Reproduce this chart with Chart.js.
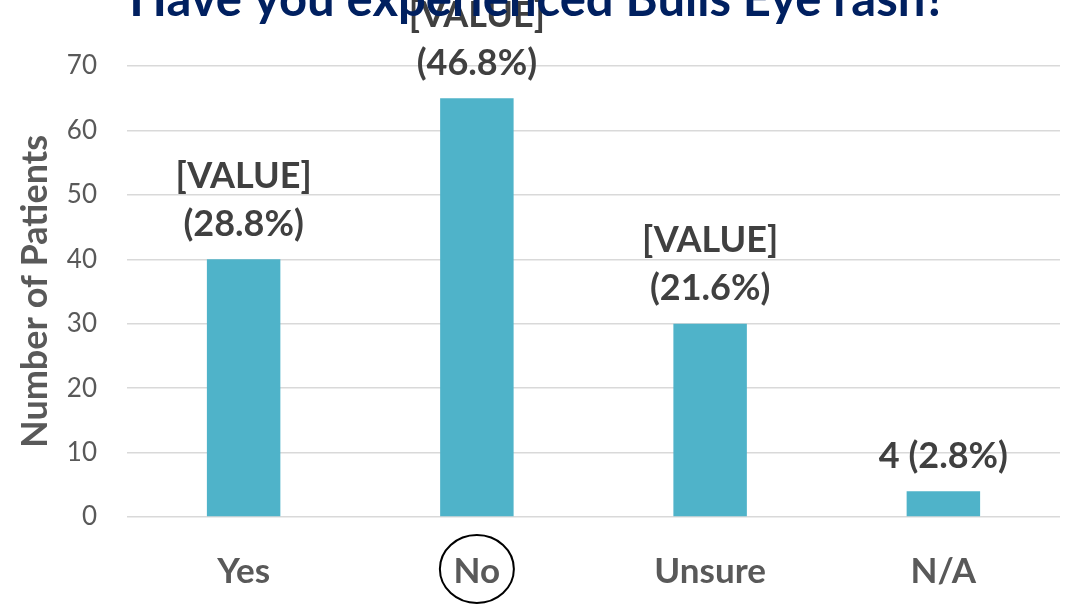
<!DOCTYPE html>
<html>
<head>
<meta charset="utf-8">
<script src="https://cdn.jsdelivr.net/npm/chart.js@4/dist/chart.umd.min.js"></script>
<style>
  html, body { margin: 0; padding: 0; background: #fff; }
  #wrap { width: 1079px; height: 605px; position: relative; }
</style>
</head>
<body>
<div id="wrap"><canvas id="chart"></canvas></div>
<script>
const categories = ['Yes', 'No', 'Unsure', 'N/A'];
const patients = [40, 65, 30, 4];
const valueLabels = [
  ['[VALUE]', '(28.8%)'],
  ['[VALUE]', '(46.8%)'],
  ['[VALUE]', '(21.6%)'],
  ['4 (2.8%)']
];
const chartTitle = 'Have you experienced Bulls Eye rash?';
const yAxisTitle = 'Number of Patients';
const circledCategory = 'No';

const FONT = 'Lato, "Open Sans", sans-serif';

// title sits partly above the canvas edge
const titlePlugin = {
  id: 'topTitle',
  afterDraw(chart) {
    const ctx = chart.ctx;
    ctx.save();
    ctx.font = 'bold 49px ' + FONT;
    ctx.fillStyle = '#002060';
    ctx.textAlign = 'center';
    ctx.textBaseline = 'alphabetic';
    ctx.fillText(chartTitle, 538, 16);
    ctx.restore();
  }
};

// value + percentage labels above each bar
const barLabels = {
  id: 'barLabels',
  afterDatasetsDraw(chart) {
    const ctx = chart.ctx;
    const meta = chart.getDatasetMeta(0);
    ctx.save();
    ctx.font = 'bold 36px ' + FONT;
    ctx.fillStyle = '#404040';
    ctx.textAlign = 'center';
    ctx.textBaseline = 'middle';
    meta.data.forEach((bar, i) => {
      const lines = valueLabels[i];
      lines.forEach((txt, j) => {
        const fromBottom = lines.length - 1 - j;
        ctx.fillText(txt, bar.x, bar.y - 35 - fromBottom * 48);
      });
    });
    ctx.restore();
  }
};

// ring drawn around one category label
const circleLabel = {
  id: 'circleLabel',
  afterDraw(chart) {
    const idx = categories.indexOf(circledCategory);
    if (idx < 0) return;
    const x = chart.scales.x.getPixelForValue(idx);
    const ctx = chart.ctx;
    ctx.save();
    ctx.strokeStyle = '#000';
    ctx.lineWidth = 2;
    ctx.beginPath();
    ctx.ellipse(x, 569, 37, 34, 0, 0, Math.PI * 2);
    ctx.stroke();
    ctx.restore();
  }
};

new Chart(document.getElementById('chart'), {
  type: 'bar',
  data: {
    labels: categories,
    datasets: [{
      data: patients,
      backgroundColor: '#4FB3C9',
      categoryPercentage: 1,
      barPercentage: 0.315
    }]
  },
  options: {
    responsive: true,
    maintainAspectRatio: false,
    animation: false,
    layout: { padding: { top: 66, right: 19, left: 0, bottom: 0 } },
    plugins: { legend: { display: false }, tooltip: { enabled: false } },
    scales: {
      x: {
        grid: { display: false },
        border: { display: false },
        ticks: {
          color: '#595959',
          font: { family: FONT, size: 35, weight: 'bold' },
          padding: 26
        },
        afterFit(s) { s.height = 88; }
      },
      y: {
        min: 0,
        max: 70,
        ticks: {
          stepSize: 10,
          color: '#595959',
          font: { family: FONT, size: 26 },
          padding: 30
        },
        grid: { color: '#D9D9D9', lineWidth: 1.5, drawTicks: false },
        border: { display: false },
        title: {
          display: true,
          text: yAxisTitle,
          color: '#595959',
          font: { family: FONT, size: 36, weight: 'bold' },
          padding: { top: 14, bottom: 0 }
        },
        afterFit(s) { s.width = 127; }
      }
    }
  },
  plugins: [barLabels, titlePlugin, circleLabel]
});
</script>
</body>
</html>
